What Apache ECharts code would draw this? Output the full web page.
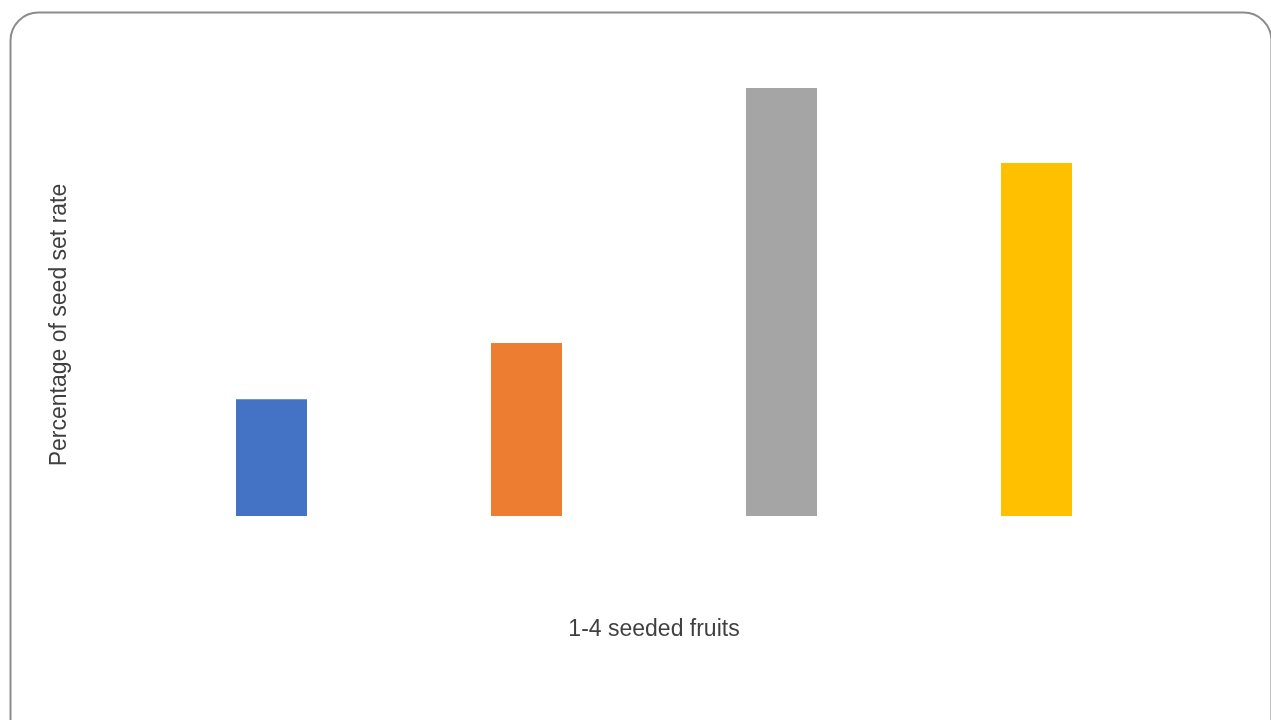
<!DOCTYPE html>
<html>
<head>
<meta charset="utf-8">
<script src="https://cdn.jsdelivr.net/npm/echarts@6/dist/echarts.min.js"></script>
<style>
  html, body { margin: 0; padding: 0; background: #fff; }
  #main { width: 1271px; height: 720px; }
</style>
</head>
<body>
<div id="main"></div>
<script>
/* 数据 */
var categories = ['1', '2', '3', '4'];
var seedSetRate = [27.3, 40.4, 100, 82.5];
var barColors = ['#4472c4', '#ed7d31', '#a5a5a5', '#ffc000'];

var myChart = echarts.init(document.getElementById('main'));

var option = {
  animation: false,
  grid: { left: 144, right: 107, top: 88, bottom: 204 },
  xAxis: {
    type: 'category',
    data: categories,
    axisLine: { show: false },
    axisTick: { show: false },
    axisLabel: { show: false },
    name: '1-4 seeded fruits',
    nameLocation: 'middle',
    nameGap: 102,
    nameTextStyle: { fontFamily: 'Liberation Sans', fontSize: 23, color: '#404040' }
  },
  yAxis: {
    type: 'value',
    min: 0,
    max: 100,
    show: false
  },
  series: [{
    type: 'bar',
    barWidth: 71,
    data: seedSetRate.map(function (v, i) {
      return { value: v, itemStyle: { color: barColors[i] } };
    })
  }],
  graphic: [
    {
      // 外框
      type: 'rect',
      left: 8,
      top: 10,
      shape: { width: 1261, height: 740, r: 28 },
      style: { fill: null, stroke: '#8c8c8c', lineWidth: 2 },
      silent: true
    },
    {
      // y 轴标题
      type: 'text',
      x: 60,
      y: 325,
      rotation: Math.PI / 2,
      style: {
        text: 'Percentage of seed set rate',
        font: '23px "Liberation Sans"',
        fill: '#404040',
        align: 'center',
        verticalAlign: 'middle'
      }
    }
  ]
};
myChart.setOption(option);
</script>
</body>
</html>
